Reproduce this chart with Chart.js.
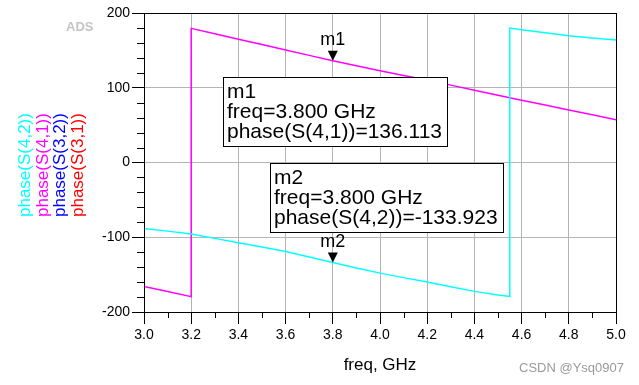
<!DOCTYPE html>
<html>
<head>
<meta charset="utf-8">
<script src="https://cdn.jsdelivr.net/npm/chart.js@4.4.0/dist/chart.umd.min.js"></script>
<style>
  html, body { margin: 0; padding: 0; background: #fff; }
  canvas { display: block; }
</style>
</head>
<body>
<canvas id="chart" width="639" height="385"></canvas>
<script>
// freq in GHz, phase in degrees
const freqS42 = [3.0, 3.1, 3.2, 3.3, 3.4, 3.5, 3.6, 3.7, 3.8, 3.9, 4.0, 4.1, 4.2, 4.3, 4.4, 4.5, 4.55, 4.55, 4.6, 4.7, 4.8, 4.9, 5.0];
const phaseS42 = [-88.2, -91.8, -95.7, -101.5, -107.3, -113.1, -119.0, -126.3, -133.9, -141.0, -148.0, -154.0, -160.0, -166.2, -172.4, -177.2, -179.1, 179.9, 177.7, 173.6, 169.6, 166.7, 163.9];

const freqS41 = [3.0, 3.1, 3.2, 3.2, 3.3, 3.4, 3.5, 3.6, 3.7, 3.8, 3.9, 4.0, 4.1, 4.2, 4.3, 4.4, 4.5, 4.6, 4.7, 4.8, 4.9, 5.0];
const phaseS41 = [-165.7, -172.6, -179.5, 179.5, 172.3, 165.0, 157.8, 150.5, 143.3, 136.1, 129.4, 122.8, 116.5, 110.3, 103.5, 96.8, 90.0, 83.3, 76.8, 70.3, 63.8, 57.3];

// S(3,2) and S(3,1) are listed in the legend but no trace of them is visible
const freqS32 = [];
const phaseS32 = [];
const freqS31 = [];
const phaseS31 = [];

const traceNames = ['phase(S(4,2))', 'phase(S(4,1))', 'phase(S(3,2))', 'phase(S(3,1))'];
const traceColors = ['#00ffff', '#ff00ff', '#0000ff', '#ff0000'];

const xTicks = [3.0, 3.2, 3.4, 3.6, 3.8, 4.0, 4.2, 4.4, 4.6, 4.8, 5.0];
const yTicks = [-200, -100, 0, 100, 200];

// markers
const markerNames = ['m1', 'm2'];
const markerFreq = [3.8, 3.8];
const markerValue = [136.113, -133.923];
const markerTrace = ['phase(S(4,1))', 'phase(S(4,2))'];
const markerBoxAt = [[3.335, 114.8], [3.535, -0.6]]; // top-left of readout boxes (freq, deg)

const FONT = 'Arial, "Liberation Sans", sans-serif';

function pts(xs, ys) {
    return xs.map((x, i) => ({x: x, y: ys[i]}));
}

const seriesX = [freqS42, freqS41, freqS32, freqS31];
const seriesY = [phaseS42, phaseS41, phaseS32, phaseS31];

const datasets = traceNames.map((name, i) => ({
    label: name,
    data: pts(seriesX[i], seriesY[i]),
    borderColor: traceColors[i],
    backgroundColor: traceColors[i],
    borderWidth: 1.5,
    pointRadius: 0,
    tension: 0,
    fill: false
}));

const adsDecor = {
    id: 'adsDecor',
    afterDraw(chart) {
        const ctx = chart.ctx;
        const a = chart.chartArea;
        const xs = chart.scales.x;
        const ys = chart.scales.y;
        ctx.save();

        // frame
        ctx.strokeStyle = '#000';
        ctx.lineWidth = 1;
        ctx.strokeRect(Math.round(a.left) + 0.5, Math.round(a.top) + 0.5,
            Math.round(a.right - a.left), Math.round(a.bottom - a.top));

        // minor ticks
        ctx.beginPath();
        for (let v = -180; v < 200; v += 20) {
            if (v % 100 === 0) continue;
            const py = Math.round(ys.getPixelForValue(v)) + 0.5;
            ctx.moveTo(a.left - 7, py);
            ctx.lineTo(a.left, py);
        }
        for (let k = 1; k < 20; k += 2) {
            const px = Math.round(xs.getPixelForValue(3 + k * 0.1)) + 0.5;
            ctx.moveTo(px, a.bottom);
            ctx.lineTo(px, a.bottom + 6);
        }
        ctx.stroke();

        // vertical legend on the left
        ctx.font = '17px ' + FONT;
        ctx.textAlign = 'left';
        ctx.textBaseline = 'alphabetic';
        chart.data.datasets.forEach((ds, i) => {
            ctx.save();
            ctx.translate(30 + i * 17.7, 217);
            ctx.rotate(-Math.PI / 2);
            ctx.fillStyle = ds.borderColor;
            ctx.fillText(ds.label, 0, 0);
            ctx.restore();
        });

        // markers
        ctx.fillStyle = '#000';
        markerNames.forEach((m, i) => {
            const px = xs.getPixelForValue(markerFreq[i]);
            const py = ys.getPixelForValue(markerValue[i]);
            ctx.beginPath();
            ctx.moveTo(px - 5, py - 10);
            ctx.lineTo(px + 5, py - 10);
            ctx.lineTo(px, py);
            ctx.closePath();
            ctx.fill();
            ctx.font = '18px ' + FONT;
            ctx.textAlign = 'center';
            ctx.fillText(m, px, py - 16);

            // readout box
            const bx = Math.round(xs.getPixelForValue(markerBoxAt[i][0]));
            const by = Math.round(ys.getPixelForValue(markerBoxAt[i][1]));
            const lines = [m, 'freq=' + markerFreq[i].toFixed(3) + ' GHz',
                markerTrace[i] + '=' + markerValue[i].toFixed(3)];
            ctx.font = '21px ' + FONT;
            ctx.textAlign = 'left';
            let w = 0;
            lines.forEach(t => { w = Math.max(w, ctx.measureText(t).width); });
            ctx.fillStyle = '#fff';
            ctx.fillRect(bx, by, Math.round(w + 9), 69);
            ctx.strokeStyle = '#000';
            ctx.strokeRect(bx + 0.5, by + 0.5, Math.round(w + 9), 69);
            ctx.fillStyle = '#000';
            lines.forEach((t, j) => ctx.fillText(t, bx + 4, by + 21 + j * 19.8));
        });

        // ADS logo and watermark
        ctx.font = 'bold 13px ' + FONT;
        ctx.fillStyle = '#c4c4c4';
        ctx.textAlign = 'left';
        ctx.fillText('ADS', 66, 31);
        ctx.font = '13px ' + FONT;
        ctx.fillStyle = '#9a9a9a';
        ctx.textAlign = 'right';
        ctx.fillText('CSDN @Ysq0907', 624, 372);

        ctx.restore();
    }
};

new Chart(document.getElementById('chart'), {
    type: 'line',
    data: {datasets: datasets},
    options: {
        responsive: false,
        animation: false,
        devicePixelRatio: 1,
        layout: {padding: {top: 13, right: 23, left: 0, bottom: 0}},
        plugins: {
            legend: {display: false},
            tooltip: {enabled: false}
        },
        scales: {
            x: {
                type: 'linear',
                min: 3.0,
                max: 5.0,
                afterFit(scale) { scale.height = 73; },
                afterBuildTicks(scale) { scale.ticks = xTicks.map(v => ({value: v})); },
                grid: {color: '#b4b4b4', lineWidth: 1, tickColor: '#000', tickLength: 12},
                border: {color: '#000', width: 1},
                ticks: {
                    color: '#000',
                    padding: 3,
                    maxRotation: 0,
                    autoSkip: false,
                    font: {family: FONT, size: 14},
                    callback: v => v.toFixed(1)
                },
                title: {
                    display: true,
                    text: 'freq, GHz',
                    color: '#000',
                    font: {family: FONT, size: 17},
                    padding: {top: 0, bottom: 9}
                }
            },
            y: {
                min: -200,
                max: 200,
                afterFit(scale) { scale.width = 144; },
                afterBuildTicks(scale) { scale.ticks = yTicks.map(v => ({value: v})); },
                grid: {color: '#b4b4b4', lineWidth: 1, tickColor: '#000', tickLength: 12},
                border: {color: '#000', width: 1},
                ticks: {
                    color: '#000',
                    padding: 2,
                    font: {family: FONT, size: 14}
                }
            }
        }
    },
    plugins: [adsDecor]
});
</script>
</body>
</html>
